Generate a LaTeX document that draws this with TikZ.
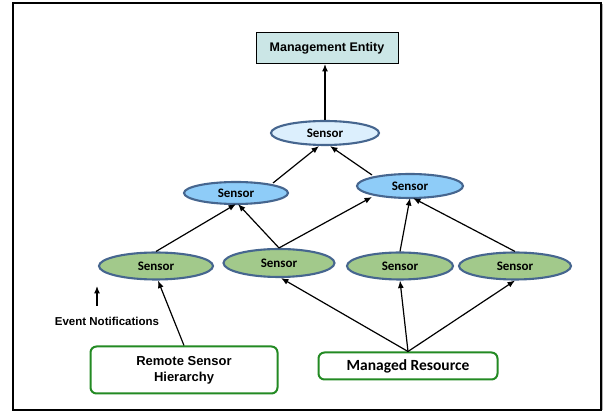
\documentclass[tikz,border=0pt]{standalone}
\usepackage{fontspec}
\setmainfont{Liberation Sans}
\newfontfamily\carlfont{Carlito}
\usetikzlibrary{arrows.meta,shapes.geometric,calc}
\definecolor{metal}{HTML}{CBE6E6}
\definecolor{sbord}{HTML}{46668F}
\definecolor{stop}{HTML}{DCEFFD}
\definecolor{smid}{HTML}{8ECCF8}
\definecolor{sbot}{HTML}{A2C98B}
\definecolor{gbord}{HTML}{238A23}
\tikzset{
  sensor/.style={ellipse, draw=sbord, line width=2.1pt, inner sep=0pt,
    font=\carlfont\bfseries\fontsize{13}{15}\selectfont},
  gbox/.style={draw=gbord, line width=2pt, rounded corners=6pt, fill=white, align=center},
  conn/.style={line width=1.2pt, -{Latex[length=7.5pt,width=6pt]}},
}
\begin{document}
\begin{tikzpicture}[x=1pt,y=-1pt]
\useasboundingbox (0,0) rectangle (603,411);
\draw[line width=1.3pt] (13,3) rectangle (601,410);
\draw[line width=0.8pt, gray!60] (602.3,4) -- (602.3,410);

\node[draw=black, line width=1pt, fill=metal, minimum width=142pt, minimum height=31pt,
  font=\bfseries\fontsize{12.5}{14}\selectfont] (me) at (327,48) {Management Entity};

\node[sensor, fill=stop, minimum width=108pt, minimum height=24pt] (top) at (325,133) {Sensor};
\node[sensor, fill=smid, minimum width=104pt, minimum height=22pt] (ml) at (236,193) {Sensor};
\node[sensor, fill=smid, minimum width=106pt, minimum height=24pt] (mr) at (410,186) {Sensor};
\node[sensor, fill=sbot, minimum width=114pt, minimum height=27pt] (s1) at (156,266) {Sensor};
\node[sensor, fill=sbot, minimum width=111pt, minimum height=28pt] (s2) at (279,263) {Sensor};
\node[sensor, fill=sbot, minimum width=106pt, minimum height=27pt] (s3) at (400,266) {Sensor};
\node[sensor, fill=sbot, minimum width=112pt, minimum height=27pt] (s4) at (515,266) {Sensor};

\node[gbox, minimum width=187pt, minimum height=47pt,
  font=\bfseries\fontsize{13}{16}\selectfont] (rsh) at (184,370) {Remote Sensor\\Hierarchy};
\node[gbox, minimum width=179pt, minimum height=27pt,
  font=\carlfont\bfseries\fontsize{15.5}{17}\selectfont] (res) at (408,366) {Managed Resource};

\node[font=\bfseries\fontsize{11.5}{13}\selectfont, inner sep=0pt] (evt) at (107,321) {Event Notifications};
\coordinate (ev0) at (97,306);
\coordinate (ev1) at (97,286);
\draw[conn] (ev0) -- (ev1);

\draw[conn] (top.north) -- (top.north |- me.south);
\draw[conn] ($(ml)+(37,-10)$) -- ([xshift=-6pt]top.south);
\draw[conn] ($(mr)+(-38,-11)$) -- ([xshift=5pt]top.south);
\draw[conn] (s1.north) -- ([yshift=1pt]ml.south);
\draw[conn] (s2.north) -- ([xshift=2pt,yshift=1pt]ml.south);
\draw[conn] (s2.north) -- ($(mr)+(-38,11)$);
\draw[conn] (s3.north) -- ([yshift=1pt]mr.south);
\draw[conn] (s4.north) -- ([xshift=3pt,yshift=1pt]mr.south);
\draw[conn] (rsh.north) -- ([xshift=2pt]s1.south);
\draw[conn] (res.north) -- ([xshift=2pt]s2.south);
\draw[conn] (res.north) -- (s3.south);
\draw[conn] (res.north) -- (s4.south);
\end{tikzpicture}
\end{document}
